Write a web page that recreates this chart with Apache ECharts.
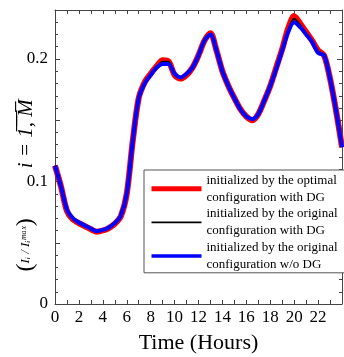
<!DOCTYPE html>
<html>
<head>
<meta charset="utf-8">
<script src="https://cdn.jsdelivr.net/npm/echarts@6/dist/echarts.min.js"></script>
<style>
  html, body { margin: 0; padding: 0; background: #fff; }
  #chart { width: 344px; height: 357px; }
</style>
</head>
<body>
<div id="chart"></div>
<script>
// time of day, half-hour steps
const hours = [0, 0.5, 1, 1.5, 2, 2.5, 3, 3.5, 4, 4.5, 5, 5.5, 6, 6.5, 7, 7.5, 8, 8.5, 9, 9.5, 10, 10.5, 11, 11.5,
  12, 12.5, 13, 13.5, 14, 14.5, 15, 15.5, 16, 16.5, 17, 17.5, 18, 18.5, 19, 19.5, 20, 20.5, 21, 21.5, 22, 22.5, 23, 23.5, 24]

const optimalDG = [0.113, 0.096, 0.076, 0.069, 0.066, 0.0635, 0.061, 0.059, 0.060, 0.062, 0.0655, 0.0715, 0.090, 0.133, 0.168, 0.181, 0.188, 0.194, 0.199, 0.198, 0.187, 0.184, 0.187, 0.193,
  0.203, 0.215, 0.221, 0.207, 0.190, 0.178, 0.168, 0.159, 0.153, 0.150, 0.155, 0.166, 0.178, 0.193, 0.208, 0.225, 0.235, 0.229, 0.222, 0.215, 0.207, 0.203, 0.184, 0.158, 0.128]
const originalDG = [0.113, 0.096, 0.077, 0.0695, 0.0665, 0.064, 0.0613, 0.0593, 0.0603, 0.0623, 0.0658, 0.0718, 0.090, 0.133, 0.168, 0.180, 0.187, 0.193, 0.198, 0.198, 0.188, 0.185, 0.188, 0.193,
  0.203, 0.215, 0.220, 0.207, 0.190, 0.178, 0.168, 0.159, 0.153, 0.1505, 0.155, 0.166, 0.178, 0.192, 0.207, 0.224, 0.233, 0.228, 0.221, 0.2145, 0.2065, 0.203, 0.184, 0.158, 0.128]
const originalNoDG = [0.113, 0.096, 0.077, 0.070, 0.0665, 0.064, 0.0615, 0.0595, 0.0605, 0.0625, 0.066, 0.072, 0.090, 0.133, 0.168, 0.180, 0.187, 0.193, 0.196, 0.196, 0.188, 0.185, 0.188, 0.193,
  0.203, 0.215, 0.220, 0.207, 0.190, 0.178, 0.168, 0.159, 0.153, 0.151, 0.155, 0.166, 0.178, 0.192, 0.207, 0.222, 0.230, 0.226, 0.220, 0.214, 0.205, 0.203, 0.184, 0.158, 0.128]

const names = [
  'initialized by the optimal\nconfiguration with DG',
  'initialized by the original\nconfiguration with DG',
  'initialized by the original\nconfiguration w/o DG'
]
const colors = ['#ff0000', '#000000', '#0000ff']
const widths = [6, 1.6, 4]
const legendWidths = [5, 1.6, 3.5]

const serif = '"Liberation Serif", "DejaVu Serif", serif'
const frame = () => ({ show: true, onZero: false, lineStyle: { color: '#444', width: 1 } })
const tick = len => ({ show: true, inside: true, length: len, lineStyle: { color: '#444' } })
const minor = (n, len) => ({ show: true, splitNumber: n, length: len, lineStyle: { color: '#444' } })

const chart = echarts.init(document.getElementById('chart'))

const toPairs = arr => hours.map((h, i) => [h, arr[i]])
const series = [optimalDG, originalDG, originalNoDG]

chart.setOption({
  animation: false,
  grid: { left: 55, right: 2, top: 10, bottom: 53, containLabel: false, outerBoundsMode: 'none' },
  xAxis: [{
    type: 'value',
    position: 'bottom',
    min: 0,
    max: 24,
    interval: 2,
    name: 'Time (Hours)',
    nameLocation: 'middle',
    nameGap: 28,
    nameMoveOverlap: false,
    nameTextStyle: { fontFamily: serif, fontSize: 22, color: '#000' },
    axisLine: frame(),
    axisTick: tick(4),
    minorTick: minor(2, 4),
    splitLine: { show: false },
    axisLabel: {
      fontFamily: serif, fontSize: 17, color: '#000', margin: 5,
      formatter: v => v === 24 ? '' : String(v)
    }
  }, {
    type: 'value',
    position: 'top',
    min: 0,
    max: 24,
    interval: 2,
    axisLine: frame(),
    axisTick: tick(4),
    minorTick: minor(2, 4),
    splitLine: { show: false },
    axisLabel: { show: false }
  }],
  yAxis: [{
    type: 'value',
    position: 'left',
    min: 0,
    max: 0.24,
    interval: 0.05,
    name: '{p|(}{f|Iᵢ / Iᵢᵐᵃˣ}{p|)}               {b|i = 1̅,̅ ̅M̅}                 ',
    nameLocation: 'middle',
    nameGap: 17,
    nameMoveOverlap: false,
    nameTextStyle: {
      color: '#000',
      rich: {
        p: { fontFamily: serif, fontSize: 24, color: '#000' },
        f: { fontFamily: serif, fontStyle: 'italic', fontSize: 13, color: '#000' },
        b: { fontFamily: serif, fontStyle: 'italic', fontSize: 21, color: '#000' }
      }
    },
    axisLine: frame(),
    axisTick: tick(5),
    minorTick: minor(5, 3),
    splitLine: { show: false },
    axisLabel: {
      fontFamily: serif, fontSize: 17, color: '#000', margin: 7,
      formatter: v => {
        const k = Math.round(v * 100)
        return k % 10 === 0 ? String(k / 100) : ''
      }
    }
  }, {
    type: 'value',
    position: 'right',
    min: 0,
    max: 0.24,
    interval: 0.05,
    axisLine: frame(),
    axisTick: tick(5),
    minorTick: minor(5, 3),
    splitLine: { show: false },
    axisLabel: { show: false }
  }],
  legend: {
    orient: 'vertical',
    left: 144,
    top: 170,
    padding: [2, 8, 0, 5],
    itemGap: 0,
    itemWidth: 50,
    itemHeight: 14,
    backgroundColor: '#fff',
    borderColor: '#555',
    borderWidth: 1,
    borderRadius: 0,
    itemStyle: { opacity: 0 },
    textStyle: { fontFamily: serif, fontSize: 13, lineHeight: 16.8, color: '#000' },
    data: names.map((name, i) => ({ name, lineStyle: { width: legendWidths[i] } }))
  },
  series: series.map((arr, i) => ({
    name: names[i],
    type: 'line',
    data: toPairs(arr),
    showSymbol: false,
    symbol: 'none',
    smooth: 0.3,
    z: i + 1,
    lineStyle: { color: colors[i], width: widths[i] },
    itemStyle: { color: colors[i] }
  }))
})
</script>
</body>
</html>
